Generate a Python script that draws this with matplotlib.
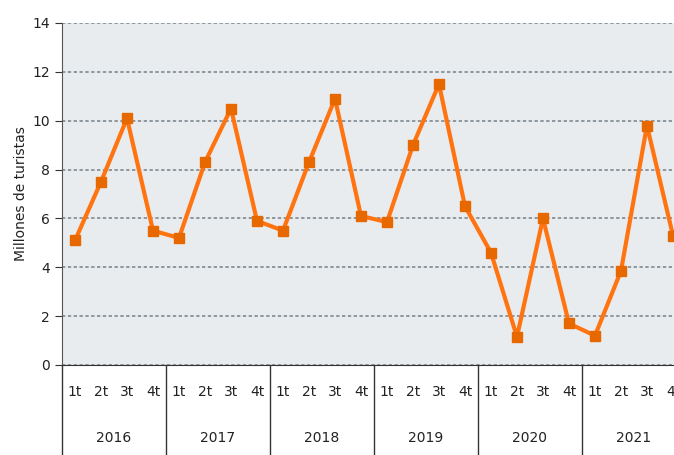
import matplotlib.pyplot as plt
import matplotlib.transforms as mtransforms

years = ["2016", "2017", "2018", "2019", "2020", "2021"]
quarters = ["1t", "2t", "3t", "4t"]
turistas = [5.1, 7.5, 10.1, 5.5,
            5.2, 8.3, 10.5, 5.9,
            5.5, 8.3, 10.9, 6.1,
            5.85, 9.0, 11.5, 6.5,
            4.6, 1.15, 6.0, 1.7,
            1.2, 3.85, 9.8, 5.3]

fig = plt.figure(figsize=(6.74, 4.55), dpi=100)
ax = fig.add_axes([62 / 674, 90 / 455, 1 - 62 / 674, 342 / 455])
ax.set_facecolor("#e9ecef")

x = list(range(len(turistas)))
ax.plot(x, turistas, color="#ff7410", lw=3, marker="s", markersize=7,
        markerfacecolor="#e86800", markeredgecolor="#e86800", zorder=3)

ax.set_ylim(0, 14)
ax.set_yticks(range(0, 15, 2))
ax.set_xlim(-0.5, 23.04)
ax.set_xticks([])
ax.yaxis.grid(True, linestyle=(0, (2, 1.5)), color="#7f898f", lw=1.2)
ax.set_axisbelow(True)
for s in ["top", "right"]:
    ax.spines[s].set_visible(False)
ax.spines["left"].set_color("#555555")
ax.spines["bottom"].set_color("#333333")
ax.tick_params(axis="y", length=5, color="#333333", labelsize=10, labelcolor="#222222")
ax.set_ylabel("Millones de turistas", fontsize=10, color="#222222", labelpad=3)

# two-level category axis
trans = mtransforms.blended_transform_factory(ax.transData, ax.transAxes)
bottom = -90 / 342
for i in range(len(years) + 1):
    ax.plot([i * 4 - 0.5] * 2, [0, bottom], transform=trans, color="#333333",
            lw=1, clip_on=False)
for i, yr in enumerate(years):
    for j, q in enumerate(quarters):
        ax.text(i * 4 + j, -27 / 342, q, transform=trans, ha="center", va="center",
                fontsize=10, color="#222222")
    ax.text(i * 4 + 1.5, -73 / 342, yr, transform=trans, ha="center", va="center",
            fontsize=10, color="#222222")

fig.savefig("out.png", dpi=100)
